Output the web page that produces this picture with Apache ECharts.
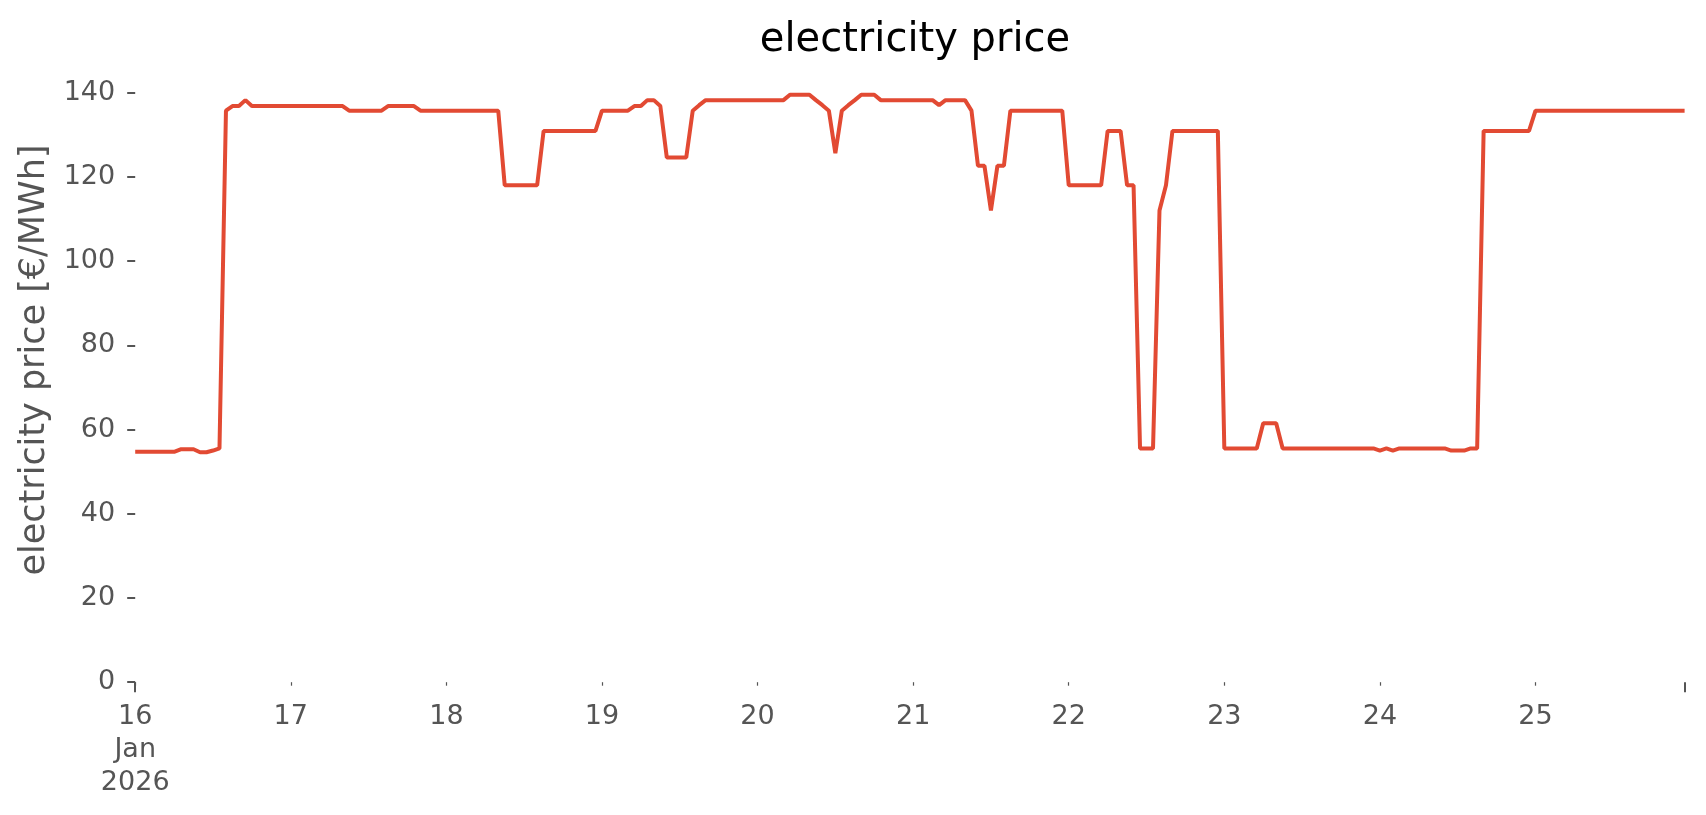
<!DOCTYPE html>
<html>
<head>
<meta charset="utf-8">
<script src="https://cdn.jsdelivr.net/npm/echarts@6/dist/echarts.min.js"></script>
<style>
  html, body { margin: 0; padding: 0; background: #ffffff; }
  #chart { width: 1706px; height: 815px; }
</style>
</head>
<body>
<div id="chart"></div>
<script>
// ---- data ----
const titleText = 'electricity price';
const yAxisName = 'electricity price [€/MWh]';
const startLabel = '2026-01-16 00:00';   // first hourly sample
const priceValues = [
  54.7, 54.7, 54.7, 54.7, 54.7, 54.7, 54.7, 55.3, 55.3, 55.3, 54.6, 54.6, 55.0, 55.5, 135.7, 136.8, 136.8, 138.2,
  136.8, 136.8, 136.8, 136.8, 136.8, 136.8, 136.8, 136.8, 136.8, 136.8, 136.8, 136.8, 136.8, 136.8, 136.8,
  135.7, 135.7, 135.7, 135.7, 135.7, 135.7,
  136.8, 136.8, 136.8, 136.8, 136.8,
  135.7, 135.7, 135.7, 135.7, 135.7, 135.7, 135.7, 135.7, 135.7, 135.7, 135.7, 135.7, 135.7,
  118.0, 118.0, 118.0, 118.0, 118.0, 118.0,
  130.9, 130.9, 130.9, 130.9, 130.9, 130.9, 130.9, 130.9, 130.9,
  135.7, 135.7, 135.7, 135.7, 135.7,
  136.8, 136.8, 138.2, 138.2, 136.8,
  124.6, 124.6, 124.6, 124.6,
  135.7, 137.0,
  138.2, 138.2, 138.2, 138.2, 138.2, 138.2, 138.2, 138.2, 138.2, 138.2, 138.2, 138.2, 138.2,
  139.5, 139.5, 139.5, 139.5,
  138.2, 137.0, 135.7, 125.6, 135.7, 137.0, 138.2,
  139.5, 139.5, 139.5,
  138.2, 138.2, 138.2, 138.2, 138.2, 138.2, 138.2, 138.2, 138.2,
  137.0, 138.2, 138.2, 138.2, 138.2, 135.7,
  122.6, 122.6, 112.0, 122.6, 122.6,
  135.7, 135.7, 135.7, 135.7, 135.7, 135.7, 135.7, 135.7, 135.7,
  118.0, 118.0, 118.0, 118.0, 118.0, 118.0,
  130.9, 130.9, 130.9,
  118.0, 118.0,
  55.5, 55.5, 55.5, 112.0, 118.0,
  130.9, 130.9, 130.9, 130.9, 130.9, 130.9, 130.9, 130.9,
  55.5, 55.5, 55.5, 55.5, 55.5, 55.5,
  61.5, 61.5, 61.5,
  55.5, 55.5, 55.5, 55.5, 55.5, 55.5, 55.5, 55.5, 55.5, 55.5, 55.5, 55.5, 55.5, 55.5, 55.5,
  55.0, 55.5, 55.0,
  55.5, 55.5, 55.5, 55.5, 55.5, 55.5, 55.5, 55.5,
  55.0, 55.0, 55.0, 55.5, 55.5,
  130.9, 130.9, 130.9, 130.9, 130.9, 130.9, 130.9, 130.9,
  135.7, 135.7, 135.7, 135.7, 135.7, 135.7, 135.7, 135.7, 135.7, 135.7, 135.7, 135.7,
  135.7, 135.7, 135.7, 135.7, 135.7, 135.7, 135.7, 135.7, 135.7, 135.7, 135.7, 135.7
];
const yTickValues = [0, 20, 40, 60, 80, 100, 120, 140];
const xDayLabels = ['16\nJan\n2026', '17', '18', '19', '20', '21', '22', '23', '24', '25'];

// ---- build (x = hours since first sample) ----
const hoursIndex = priceValues.map((_, i) => i);
const seriesData = hoursIndex.map((h, i) => [h, priceValues[i]]);
const xMin = hoursIndex[0];
const xMax = hoursIndex[hoursIndex.length - 1];
const dayTicks = xDayLabels.map((_, i) => i * 24);

const FONT = 'DejaVu Sans';
const GREY = '#555555';

const chart = echarts.init(document.getElementById('chart'), null, { renderer: 'canvas' });
chart.setOption({
  animation: false,
  backgroundColor: '#ffffff',
  title: {
    text: titleText,
    left: 910,
    textAlign: 'center',
    top: 16,
    textStyle: { fontFamily: FONT, fontSize: 40, fontWeight: 'normal', color: '#000000' }
  },
  grid: { left: 135.2, right: 21.4, top: 37.8, bottom: 132.8, containLabel: false },
  xAxis: [
    {
      type: 'value',
      min: xMin,
      max: xMax,
      position: 'bottom',
      axisLine: { show: false },
      splitLine: { show: false },
      axisTick: { show: true, customValues: dayTicks, length: 3.5, lineStyle: { color: GREY, width: 1.2 } },
      axisLabel: {
        customValues: dayTicks,
        margin: 18,
        fontFamily: FONT,
        fontSize: 27,
        lineHeight: 33,
        color: GREY,
        formatter: function (val) {
          const idx = Math.round(val / 24);
          return xDayLabels[idx] !== undefined ? xDayLabels[idx] : '';
        }
      }
    },
    {
      type: 'value',
      min: xMin,
      max: xMax,
      position: 'bottom',
      gridIndex: 0,
      axisLine: { show: false },
      splitLine: { show: false },
      axisLabel: { show: false },
      axisTick: { show: true, customValues: [xMin, xMax], length: 10, lineStyle: { color: GREY, width: 2 } }
    }
  ],
  yAxis: {
    type: 'value',
    min: 0,
    max: 153,
    name: yAxisName,
    nameLocation: 'middle',
    nameGap: 82,
    nameTextStyle: { fontFamily: FONT, fontSize: 35, color: GREY },
    axisLine: { show: false },
    splitLine: { show: false },
    axisTick: { show: true, customValues: yTickValues, length: 8, lineStyle: { color: GREY, width: 2 } },
    axisLabel: {
      customValues: yTickValues,
      margin: 20,
      fontFamily: FONT,
      fontSize: 27,
      color: GREY
    }
  },
  series: [
    {
      name: startLabel,
      type: 'line',
      xAxisIndex: 0,
      data: seriesData,
      showSymbol: false,
      symbol: 'none',
      lineStyle: { color: '#E24A33', width: 4 },
      itemStyle: { color: '#E24A33' }
    }
  ]
});
</script>
</body>
</html>
